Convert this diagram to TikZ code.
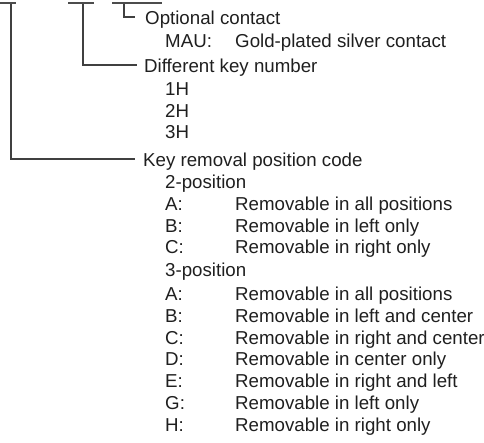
\documentclass[tikz,border=0pt]{standalone}
\usepackage{fontspec}
\setmainfont{Liberation Sans}
\begin{document}
\begin{tikzpicture}[x=1pt,y=-1pt,
  conn/.style={draw=black!75, line width=1.2pt},
  uline/.style={draw=black!70, line width=1.6pt},
  txt/.style={anchor=base west, inner sep=0pt, text=black!88, font=\fontsize{18.7}{22}\selectfont}]
\useasboundingbox (0,0) rectangle (484,442);
% top cropped header underlines
\coordinate (u1a) at (0,3); \coordinate (u1b) at (16,3);
\coordinate (u2a) at (68,3); \coordinate (u2b) at (94,3);
\coordinate (u3a) at (112,3); \coordinate (u3b) at (162,3);
\draw[uline] (u1a) -- (u1b);
\draw[uline] (u2a) -- (u2b);
\draw[uline] (u3a) -- (u3b);
% labels
\node[txt] (opt) at (145,24) {Optional contact};
\node[txt] (mau) at (165,47) {MAU:};
\node[txt] (maud) at (235,47) {Gold-plated silver contact};
\node[txt] (dkn) at (144,72) {Different key number};
\node[txt] (h1) at (165,95) {1H};
\node[txt] (h2) at (165,117) {2H};
\node[txt] (h3) at (165,138) {3H};
\node[txt] (krp) at (143,166) {Key removal position code};
\node[txt] (p2) at (165,188) {2-position};
\node[txt] (a2) at (165,210) {A:};
\node[txt] (a2d) at (235,210) {Removable in all positions};
\node[txt] (b2) at (165,232) {B:};
\node[txt] (b2d) at (235,232) {Removable in left only};
\node[txt] (c2) at (165,253) {C:};
\node[txt] (c2d) at (235,253) {Removable in right only};
\node[txt] (p3) at (165,276) {3-position};
\node[txt] (a3) at (165,300) {A:};
\node[txt] (a3d) at (235,300) {Removable in all positions};
\node[txt] (b3) at (165,322) {B:};
\node[txt] (b3d) at (235,322) {Removable in left and center};
\node[txt] (c3) at (165,344) {C:};
\node[txt] (c3d) at (235,344) {Removable in right and center};
\node[txt] (d3) at (165,365) {D:};
\node[txt] (d3d) at (235,365) {Removable in center only};
\node[txt] (e3) at (165,387) {E:};
\node[txt] (e3d) at (235,387) {Removable in right and left};
\node[txt] (g3) at (165,409) {G:};
\node[txt] (g3d) at (235,409) {Removable in left only};
\node[txt] (hh3) at (165,431) {H:};
\node[txt] (hh3d) at (235,431) {Removable in right only};
% connectors
\coordinate (t1) at (11,4);
\coordinate (t2) at (83,4);
\coordinate (t3) at (124,4);
\coordinate (e1) at (135,159);
\coordinate (e2) at (137,65);
\coordinate (e3) at (135,17);
\draw[conn] (t1) |- (e1);
\draw[conn] (t2) |- (e2);
\draw[conn] (t3) |- (e3);
\end{tikzpicture}
\end{document}
